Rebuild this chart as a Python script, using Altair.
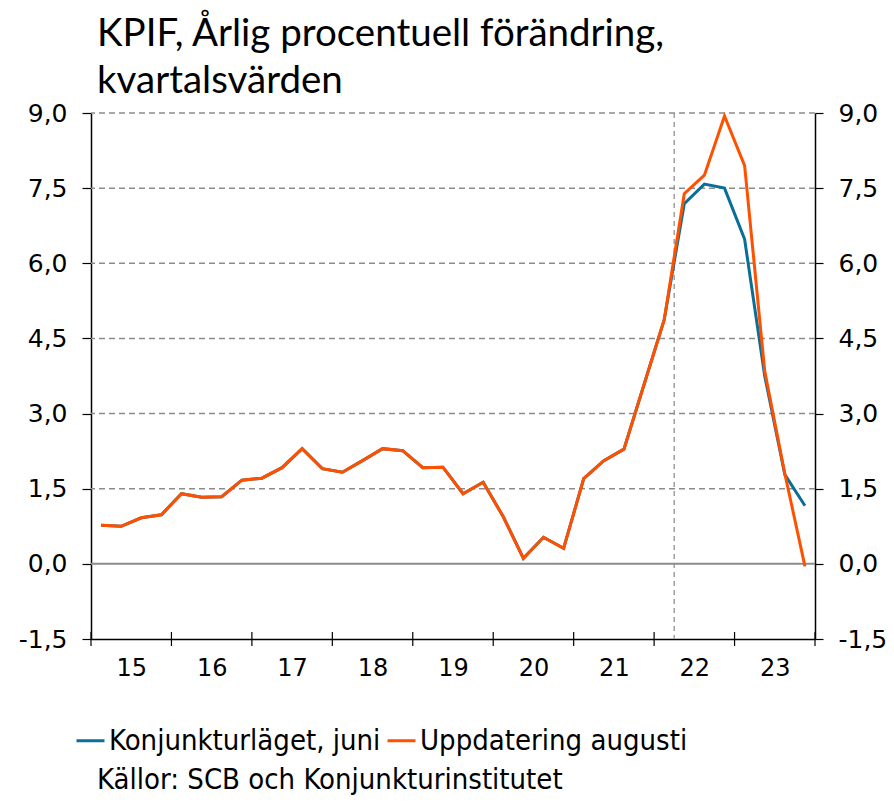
import altair as alt
import pandas as pd

# ---------------- data ----------------
quarters = [f"{y}K{q}" for y in range(2015, 2024) for q in range(1, 5)]
year_labels = ["15", "16", "17", "18", "19", "20", "21", "22", "23"]

juni = [0.77, 0.75, 0.92, 0.98, 1.40, 1.33, 1.34, 1.67, 1.71, 1.92, 2.30, 1.90,
        1.83, 2.06, 2.30, 2.26, 1.92, 1.93, 1.40, 1.63, 0.94, 0.11, 0.53, 0.31,
        1.70, 2.06, 2.29, 3.58, 4.87, 7.19, 7.58, 7.50, 6.48, 3.75, 1.78, 1.16]
augusti = [0.77, 0.75, 0.92, 0.98, 1.40, 1.33, 1.34, 1.67, 1.71, 1.92, 2.30, 1.90,
           1.83, 2.06, 2.30, 2.26, 1.92, 1.93, 1.40, 1.63, 0.94, 0.11, 0.53, 0.31,
           1.70, 2.06, 2.29, 3.58, 4.87, 7.39, 7.76, 8.94, 7.95, 3.85, 1.80, -0.05]

series_names = ["Konjunkturläget, juni", "Uppdatering augusti"]
series_colors = ["#0b6e99", "#ff5000"]
y_ticks = [-1.5, 0.0, 1.5, 3.0, 4.5, 6.0, 7.5, 9.0]
forecast_start = "2022K2"

title_lines = ["KPIF, Årlig procentuell förändring,", "kvartalsvärden"]
source_text = "Källor: SCB och Konjunkturinstitutet"

# ---------------- tables ----------------
rows = []
for name, vals in zip(series_names, [juni, augusti]):
    for i, (q, v) in enumerate(zip(quarters, vals)):
        rows.append({"serie": name, "kvartal": q, "pos": i + 0.5, "v": v})
df = pd.DataFrame(rows)

grid_df = pd.DataFrame({"v": [t for t in y_ticks if t > 0]})
zero_df = pd.DataFrame({"v": [0.0]})
year_bounds = pd.DataFrame({"pos": [4 * k for k in range(len(year_labels) + 1)]})
vline_df = pd.DataFrame({"pos": [quarters.index(forecast_start)]})
source_df = pd.DataFrame({"t": [source_text]})

W, H = 724, 526
xscale = alt.Scale(domain=[0, len(quarters)], nice=False, zero=False)
yscale = alt.Scale(domain=[-1.5, 9.0], nice=False, zero=False)

label_expr_y = "(datum.value < 0 ? '-' : '') + replace(format(abs(datum.value), '.1f'), '.', ',')"
year_centers = [4 * k + 2 for k in range(len(year_labels))]
label_expr_x = ""
for c, lab in zip(year_centers, year_labels):
    label_expr_x += f"datum.value == {c} ? '{lab}' : "
label_expr_x += "''"

AXIS_FONT = "DejaVu Sans"
TEXT_FONT = "DejaVu Sans Condensed"

left_axis = alt.Axis(orient="left", values=y_ticks, labelExpr=label_expr_y, grid=False,
                     domainColor="black", domainWidth=1.5, tickColor="black", tickSize=9,
                     tickWidth=1.2, labelFont=AXIS_FONT, labelFontSize=25, labelColor="black",
                     labelPadding=15, title=None)
right_axis = alt.Axis(orient="right", values=y_ticks, labelExpr=label_expr_y, grid=False,
                      domainColor="black", domainWidth=1.5, tickColor="black", tickSize=8,
                      tickWidth=1.2, labelFont=AXIS_FONT, labelFontSize=25, labelColor="black",
                      labelPadding=15, title=None)
x_axis = alt.Axis(orient="bottom", values=year_centers,
                  labelExpr=label_expr_x, ticks=False, grid=False, domainColor="black",
                  domainWidth=1.5, labelFont=AXIS_FONT, labelFontSize=24, labelColor="black",
                  labelPadding=17, labelOverlap=False, labelFlush=False, title=None)

grid = alt.Chart(grid_df).mark_rule(color="#8c8c8c", strokeDash=[6, 4], strokeWidth=1.5).encode(
    y=alt.Y("v:Q", scale=yscale, axis=right_axis)
)
zero = alt.Chart(zero_df).mark_rule(color="#8c8c8c", strokeWidth=2).encode(
    y=alt.Y("v:Q", scale=yscale, axis=None)
)
vline = alt.Chart(vline_df).mark_rule(color="#a0a0a0", strokeDash=[5, 4], strokeWidth=1.5).encode(
    x=alt.X("pos:Q", scale=xscale, axis=x_axis)
)
xticks = alt.Chart(year_bounds).mark_rule(color="black", strokeWidth=1.2).encode(
    x=alt.X("pos:Q", scale=xscale, axis=x_axis),
    y=alt.value(H - 7),
    y2=alt.value(H + 7),
)
lines = alt.Chart(df).mark_line(strokeWidth=3).encode(
    x=alt.X("pos:Q", scale=xscale, axis=x_axis),
    y=alt.Y("v:Q", scale=yscale, axis=left_axis),
    color=alt.Color("serie:N", scale=alt.Scale(domain=series_names, range=series_colors),
                    legend=alt.Legend(title=None, orient="none", legendX=-16, legendY=612,
                                      direction="horizontal", symbolType="stroke",
                                      symbolSize=784, symbolStrokeWidth=3,
                                      labelFont=TEXT_FONT, labelFontSize=29,
                                      labelColor="black", labelOffset=3,
                                      columnPadding=0, labelLimit=500)),
    detail=alt.Detail("serie:N"),
)
source = alt.Chart(source_df).mark_text(align="left", baseline="middle", font=TEXT_FONT,
                                        fontSize=29, color="black").encode(
    text="t:N", x=alt.value(6), y=alt.value(667)
)

chart = alt.layer(vline, xticks, grid, zero, lines, source).resolve_axis(
    y="independent"
).properties(
    width=W, height=H,
    title=alt.TitleParams(text=title_lines, anchor="start", frame="group", font="Lato",
                          fontSize=38.5, fontWeight="normal", color="black", lineHeight=47,
                          offset=0, dx=6),
    autosize=alt.AutoSizeParams(type="none"),
    padding={"left": 83, "top": 105, "right": 71, "bottom": 158},
).configure_view(stroke=None)

chart.save("out.html", embed_options={"renderer": "svg", "actions": False})
